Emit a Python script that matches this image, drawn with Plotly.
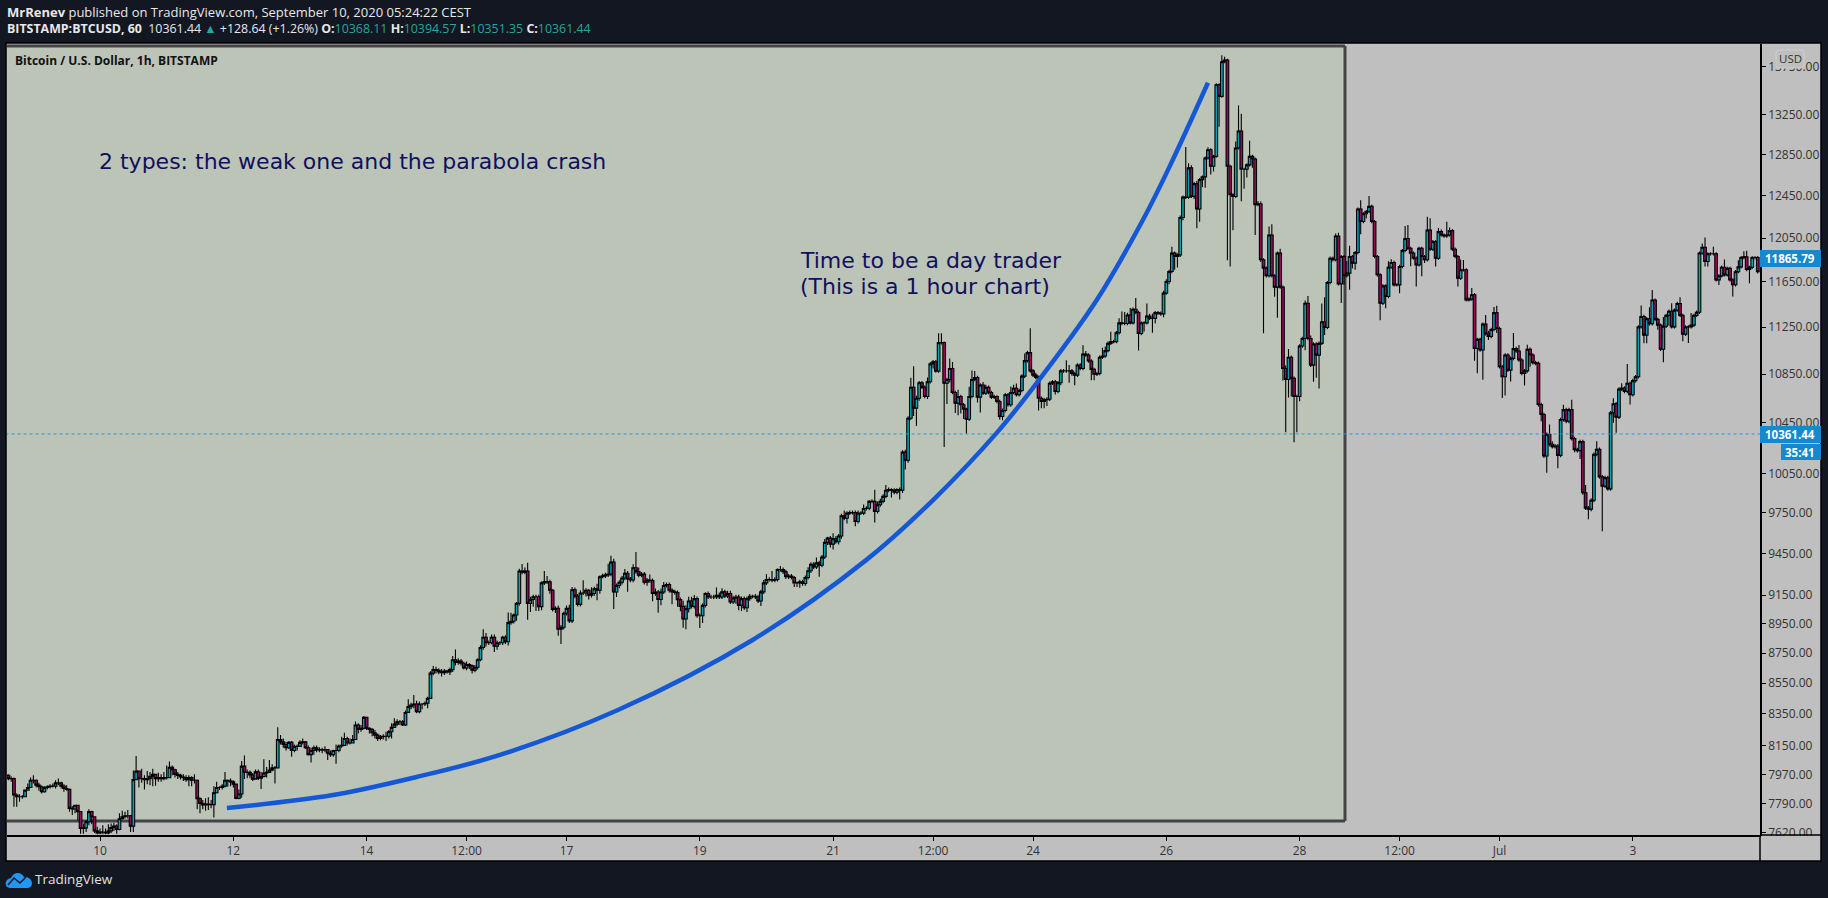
import math
import pandas as pd
import plotly.graph_objects as go

W, H = 1828, 898

# hourly candles, first part: close / high / low
first_open = 7955
closes_a = [
    7964,7944,7944,7844,7834,7834,7834,7874,7890,7934,
    7934,7904,7894,7864,7890,7894,7898,7898,7918,7918,
    7898,7884,7878,7764,7760,7782,7744,7644,7648,7684,
    7744,7714,7630,7618,7624,7622,7618,7630,7650,7658,
    7638,7702,7714,7720,7720,7658,7938,7990,7944,7944,
    7938,7944,7958,7970,7944,7950,7944,7950,7950,8014,
    7998,7970,7964,7954,7950,7938,7950,7934,7934,7822,
    7794,7784,7790,7786,7786,7858,7890,7890,7898,7934,
    7930,7924,7910,7824,7850,8021,7982,7982,7967,7941,
    7985,7946,7957,7978,7982,7997,8010,8010,8187,8172,
    8156,8135,8169,8118,8144,8144,8169,8172,8135,8092,
    8118,8135,8122,8124,8122,8124,8101,8092,8118,8118,
    8146,8150,8193,8165,8165,8187,8279,8251,8258,8328,
    8258,8251,8230,8215,8193,8204,8208,8208,8236,8264,
    8285,8300,8300,8279,8359,8397,8408,8414,8365,8414,
    8414,8419,8451,8617,
]
highs_a = [
    7978,7970,7958,7950,7854,7848,7844,7878,7914,7950,
    7964,7938,7918,7902,7898,7904,7910,7914,7934,7944,
    7924,7910,7904,7884,7778,7786,7782,7748,7674,7694,
    7758,7750,7714,7654,7644,7664,7644,7670,7674,7678,
    7670,7734,7750,7744,7754,7724,7994,8084,7990,8004,
    7964,7990,7984,8004,7964,7980,7970,7984,8024,8050,
    8024,8004,7984,7974,7970,7964,7964,7958,7970,7938,
    7830,7814,7824,7830,7814,7898,7924,7898,7910,7984,
    7938,7944,7934,7910,7878,8053,8086,8000,7993,7978,
    8000,8000,7985,8064,8015,8058,8032,8021,8264,8215,
    8193,8172,8178,8178,8156,8156,8182,8193,8178,8150,
    8135,8150,8150,8139,8135,8144,8128,8118,8122,8156,
    8156,8204,8230,8204,8193,8215,8301,8290,8279,8337,
    8322,8264,8258,8247,8225,8215,8221,8236,8247,8290,
    8322,8316,8311,8311,8372,8445,8423,8473,8436,8430,
    8419,8430,8462,8630,
]
lows_a = [
    7938,7934,7924,7774,7774,7804,7822,7830,7870,7890,
    7914,7890,7870,7854,7858,7878,7884,7890,7884,7904,
    7884,7864,7870,7744,7724,7734,7694,7614,7614,7624,
    7664,7670,7618,7610,7610,7610,7610,7610,7618,7630,
    7614,7634,7698,7704,7704,7624,7624,7934,7890,7918,
    7878,7910,7904,7898,7900,7925,7924,7934,7938,7950,
    7964,7950,7942,7938,7930,7924,7898,7898,7914,7758,
    7734,7758,7750,7754,7764,7710,7854,7874,7878,7890,
    7894,7898,7890,7818,7818,7828,7941,7946,7946,7929,
    7946,7935,7881,7950,7950,7978,7989,7914,8010,8156,
    8135,8118,8128,8079,8107,8118,8144,8156,8128,8086,
    8043,8092,8107,8107,8101,8107,8058,8079,8079,8036,
    8107,8135,8150,8150,8156,8165,8187,8225,8236,8251,
    8247,8225,8208,8193,8178,8182,8187,8178,8193,8193,
    8264,8273,8279,8273,8273,8365,8380,8387,8354,8354,
    8380,8402,8387,8451,
]

# second part: closes, wicks in USD above and below the body
closes_b = [
    8640,8635,8625,8620,8630,8625,8640,8706,8688,8697,
    8683,8651,8674,8665,8637,8656,8706,8789,8858,8821,
    8821,8858,8798,8821,8821,8858,8828,8959,8968,9012,
    9093,9323,9314,9323,9093,9120,9139,9139,9070,9238,
    9247,9245,9185,9051,9058,8913,8927,9024,9058,8971,
    9189,9143,9086,9166,9166,9185,9150,9162,9196,9185,
    9281,9288,9295,9300,9387,9173,9219,9242,9272,9307,
    9265,9258,9346,9318,9293,9300,9242,9258,9254,9162,
    9173,9120,9173,9219,9226,9185,9174,9169,9119,9072,
    8984,9055,9110,9072,9126,9007,9007,9079,9162,9138,
    9138,9138,9150,9138,9174,9145,9162,9103,9131,9138,
    9079,9126,9062,9126,9143,9143,9138,9110,9174,9238,
    9262,9262,9257,9262,9333,9333,9317,9281,9286,9276,
    9238,9238,9245,9233,9276,9324,9371,9352,9381,9364,
    9424,9531,9562,9518,9558,9535,9578,9728,9710,9748,
    9752,9752,9685,9748,9748,9783,9785,9837,9837,9760,
    9811,9837,9875,9921,9927,9921,9906,9927,9921,10217,
    10154,10488,10741,10570,10651,10779,10741,10665,10787,10937,
    10955,10876,11117,11117,10774,10806,10898,10698,10611,10665,
    10597,10562,10480,10665,10806,10822,10660,10760,10692,10741,
    10698,10660,10665,10624,10502,10551,10679,10597,10698,10733,
    10679,10714,10834,10964,11032,10878,10842,10823,10651,10624,
    10638,10643,10774,10787,10706,10779,10878,10878,10878,10878,
    10856,10842,10927,10898,11020,11012,10961,10890,10850,10856,
    10992,11003,11049,11111,11126,11126,11202,11288,11282,11282,
    11357,11288,11407,11378,11196,11288,11288,11348,11327,11327,
    11377,11372,11366,11550,11653,11744,11911,11880,11895,12243,
    12437,12434,12720,12444,12567,12323,12606,12632,12818,12900,
    12736,12834,13562,13441,13805,13823,12736,12460,12443,12917,
    13087,12707,12707,12750,12834,12807,12365,12374,11850,11774,
    11705,12079,11705,11603,11911,11603,10898,10806,10992,10815,
    10665,10665,11088,11153,11460,11153,10926,11105,11011,11111,
    11297,11247,11644,11865,11850,12069,11632,11880,11705,11729,
    11880,11820,11917,12323,12205,12278,12300,12348,12205,11880,
    11714,11460,11614,11520,11783,11826,11623,11623,11789,11935,
    12047,11956,11911,11865,11804,11956,11880,11850,12125,11947,
    12017,11865,12110,12079,12069,12079,12120,11947,11880,11683,
    11759,11759,11490,11496,11535,11068,11145,11054,11277,11194,
    11170,11230,11377,11239,10912,10828,11012,10884,10983,11066,
    11046,10969,10856,10878,11060,11012,10947,10941,10599,10518,
    10187,10358,10279,10260,10266,10192,10477,10558,10463,10558,
    10324,10237,10229,10300,9902,9786,9778,9845,10200,10239,
    10024,9953,10017,9932,10531,10605,10497,10726,10734,10707,
    10775,10680,10796,10828,11253,11344,11182,11324,11281,11488,
    11318,11268,11060,11259,11353,11390,11253,11399,11458,11353,
    11190,11253,11253,11268,11353,11381,11912,11965,11835,11905,
    11905,11905,11668,11704,11783,11713,11772,11668,11624,11742,
    11786,11871,11878,11762,11781,11871,11871,11741,
]
wick_up_b = [
    25,20,15,20,15,10,15,25,70,20,
    15,10,20,10,10,15,10,15,55,30,
    15,20,20,15,10,10,15,70,60,10,
    10,15,50,25,60,20,15,15,15,10,
    75,40,15,10,15,20,15,10,20,25,
    20,15,15,20,90,15,10,45,15,35,
    10,15,15,75,45,25,15,15,15,30,
    15,15,25,115,30,15,15,15,40,15,
    25,15,25,25,15,15,15,15,15,15,
    40,25,30,30,25,15,15,15,10,15,
    15,15,55,20,25,15,20,20,15,15,
    15,15,15,15,15,10,15,15,15,20,
    40,15,60,15,10,25,15,15,15,15,
    10,10,15,15,15,25,15,15,40,15,
    15,25,10,15,40,20,15,15,40,15,
    15,15,15,20,15,30,15,10,15,88,
    25,20,15,40,15,10,15,10,15,15,
    20,15,80,175,20,15,15,15,35,15,
    15,15,80,80,10,15,85,55,15,55,
    15,15,10,80,75,55,15,15,25,20,
    15,15,15,10,15,15,15,15,50,30,
    40,15,15,60,15,210,15,20,15,15,
    15,15,15,15,15,15,15,15,90,50,
    15,15,15,15,75,25,15,15,15,15,
    15,70,35,15,85,15,15,40,100,100,
    20,60,15,100,15,15,15,110,20,40,
    15,15,15,20,20,15,60,15,15,20,
    15,490,45,25,15,25,15,15,15,25,
    15,15,15,15,70,35,15,15,15,65,
    260,175,15,15,155,15,15,25,20,15,
    15,80,100,15,15,40,15,25,70,15,
    15,15,15,15,25,65,25,15,15,15,
    160,215,15,15,15,25,30,15,15,110,
    100,15,15,15,83,15,15,100,15,15,
    15,15,15,15,55,30,15,15,15,15,
    115,125,15,15,15,15,15,15,125,110,
    15,15,35,20,15,125,30,15,15,15,
    95,90,15,15,60,15,15,15,15,80,
    25,15,50,60,15,15,15,15,15,135,
    15,50,15,15,40,15,15,15,15,15,
    15,15,80,25,15,15,15,40,15,15,
    80,15,15,15,15,60,15,15,15,65,
    15,15,15,15,15,45,15,15,40,15,
    160,15,15,15,15,95,15,15,100,90,
    15,15,15,80,15,15,70,15,15,55,
    15,15,15,105,15,15,15,35,90,15,
    15,65,15,15,15,70,15,15,15,15,
    60,15,50,55,15,15,15,15,
]
wick_down_b = [
    15,20,15,25,15,10,20,15,20,15,
    15,10,15,20,23,15,15,10,15,25,
    15,10,40,25,15,15,15,25,15,15,
    40,15,15,15,115,60,50,100,30,25,
    15,15,25,15,25,45,100,15,15,15,
    15,15,15,15,15,25,30,15,15,70,
    25,10,15,15,15,120,35,20,15,15,
    90,15,15,15,15,15,15,25,15,55,
    15,92,40,15,15,15,88,15,50,35,
    60,70,25,15,15,15,85,50,15,15,
    15,15,15,15,15,15,15,15,15,40,
    35,40,15,30,15,15,15,15,35,15,
    15,15,15,15,15,15,15,15,15,15,
    30,30,35,15,15,15,15,15,15,83,
    15,15,20,25,40,15,20,20,15,40,
    15,15,35,15,15,15,15,15,15,82,
    15,15,15,15,15,55,15,15,70,20,
    73,20,15,65,145,20,15,15,20,15,
    40,15,15,15,517,170,25,15,80,100,
    70,80,115,15,15,15,45,125,15,15,
    15,15,15,15,25,30,15,15,15,15,
    15,15,15,15,15,15,15,15,100,55,
    55,50,15,15,25,15,22,15,15,100,
    20,85,15,15,15,15,15,90,50,15,
    15,15,15,15,15,15,15,15,15,15,
    15,15,15,15,145,15,75,15,15,125,
    45,15,15,30,15,25,15,120,100,20,
    25,15,15,15,25,180,120,75,105,15,
    80,50,15,310,15,15,890,670,320,15,
    15,310,190,80,15,85,287,15,20,577,
    15,15,15,85,270,15,100,430,150,150,
    370,290,40,15,100,15,15,140,190,280,
    15,65,15,15,15,15,15,170,80,15,
    150,50,60,15,120,15,45,15,15,15,
    15,150,15,105,15,15,15,15,75,15,
    15,15,120,15,195,15,180,30,15,15,
    15,75,15,15,15,15,15,15,15,75,
    15,15,15,15,15,105,210,15,250,15,
    30,15,15,40,15,175,155,15,95,15,
    15,15,15,100,15,100,15,15,15,55,
    15,130,15,15,15,100,15,15,15,15,
    15,20,15,65,15,15,75,15,15,15,
    15,340,15,15,15,80,125,15,15,15,
    15,80,15,15,15,15,70,70,15,15,
    15,40,15,110,15,90,15,15,15,15,
    60,15,140,15,15,15,15,15,45,45,
    15,15,15,45,15,15,15,15,105,15,
    15,15,15,15,125,15,15,15,
]

# hand drawn parabola
curve_times = ["2020-06-11 21:42","2020-06-13 11:54","2020-06-14 18:00","2020-06-16 00:00",
               "2020-06-17 18:30","2020-06-19 19:00","2020-06-21 12:00","2020-06-22 12:00",
               "2020-06-23 11:00","2020-06-24 00:00","2020-06-24 23:00","2020-06-25 15:36",
               "2020-06-26 01:00","2020-06-26 15:00"]
curve_prices = [7766,7844,7954,8090,8375,8840,9403,9847,10372,10736,11490,12222,12723,13583]

# axis labels
price_ticks = [7620,7790,7970,8150,8350,8550,8750,8950,9150,9450,9750,10050,
               10450,10850,11250,11650,12050,12450,12850,13250,13750]
date_ticks = ["2020-06-10","2020-06-12","2020-06-14","2020-06-15 12:00","2020-06-17","2020-06-19",
              "2020-06-21","2020-06-22 12:00","2020-06-24","2020-06-26","2020-06-28",
              "2020-06-29 12:00","2020-07-01","2020-07-03"]
date_labels = ["10","12","14","12:00","17","19","21","12:00","24","26","28","12:00","Jul","3"]

last_price = 10361.44
prev_price = 11865.79

BG = "#131722"
PANE = "#bfbfbf"
BOX = "#bcc4b8"
TEAL = "#26a69a"
LABEL = "#1589cd"


def fx(px):
    return px / W


def fy(py):
    return 1 - py / H


def rect(x0, y0, x1, y1, fill=None, line=None, width=1, layer="above"):
    return dict(type="rect", xref="paper", yref="paper", x0=fx(x0), x1=fx(x1), y0=fy(y1), y1=fy(y0),
                fillcolor=fill if fill else "rgba(0,0,0,0)",
                line=dict(color=line if line else "rgba(0,0,0,0)", width=width), layer=layer)


def seg(x0, y0, x1, y1, color="#000000", width=1.5, layer="above"):
    return dict(type="line", xref="paper", yref="paper", x0=fx(x0), x1=fx(x1), y0=fy(y0), y1=fy(y1),
                line=dict(color=color, width=width), layer=layer)


def path(d, fill=None, line=None, width=1):
    # d is a list of (command, px, py, px, py, ...)
    parts = []
    for item in d:
        cmd = item[0]
        nums = item[1:]
        out = [f"{fx(nums[i]):.5f},{fy(nums[i + 1]):.5f}" for i in range(0, len(nums), 2)]
        parts.append(cmd + " ".join(out))
    return dict(type="path", xref="paper", yref="paper", path=" ".join(parts) + (" Z" if fill else ""),
                fillcolor=fill if fill else "rgba(0,0,0,0)",
                line=dict(color=line if line else "rgba(0,0,0,0)", width=width), layer="above")


def text(x, y, s, size=12, color="#000000", family="Open Sans", anchor="left"):
    return dict(xref="paper", yref="paper", x=fx(x), y=fy(y), text=s, showarrow=False, xanchor=anchor,
                yanchor="middle", align=anchor, font=dict(size=size, color=color, family=family))


closes = closes_a + closes_b
opens = [first_open] + closes[:-1]
highs = list(highs_a)
lows = list(lows_a)
for k in range(len(closes_b)):
    o = opens[len(closes_a) + k]
    c = closes_b[k]
    highs.append(max(o, c) + wick_up_b[k])
    lows.append(min(o, c) - wick_down_b[k])
times = pd.date_range("2020-06-08 14:00", periods=len(closes), freq="h")

fig = go.Figure()

fig.add_trace(go.Candlestick(
    x=times, open=opens, high=highs, low=lows, close=closes,
    increasing=dict(line=dict(color="#000000", width=1.1), fillcolor="#08a3b5"),
    decreasing=dict(line=dict(color="#000000", width=1.1), fillcolor="#960c5a"),
    whiskerwidth=0, hoverinfo="skip",
))

fig.add_trace(go.Scatter(
    x=[times[0], "2020-07-04 21:48"], y=[last_price, last_price], mode="lines",
    line=dict(color="#1f9bd8", width=1, dash="dot"), hoverinfo="skip",
))

fig.add_trace(go.Scatter(
    x=curve_times, y=curve_prices, mode="lines",
    line=dict(color="#1558d6", width=4.5, shape="spline", smoothing=1), hoverinfo="skip",
))

shapes = [
    rect(6, 43, 1821, 861, fill=PANE, layer="below"),
    rect(7, 46, 1345, 821, fill=BOX, layer="below"),
    seg(7, 46, 1345, 46, color="#444444", width=3, layer="below"),
    seg(1345, 46, 1345, 821, color="#444444", width=3, layer="below"),
    seg(7, 821, 1345, 821, color="#444444", width=3, layer="below"),
    rect(6, 43, 1821, 861, line="#000000", width=1.5),
    seg(1760, 835, 1760, 861),
    seg(1760, 835, 1821, 835),
    rect(1761, 836, 1820, 860, fill=PANE),
    rect(1760, 250, 1821, 267, fill=LABEL),
    rect(1760, 426, 1821, 443, fill=LABEL),
    rect(1781, 444, 1821, 460, fill=LABEL),
    path([("M", 1779, 50), ("L", 1801, 50), ("Q", 1804, 50, 1804, 53), ("L", 1804, 65),
          ("Q", 1804, 68, 1801, 68), ("L", 1779, 68), ("Q", 1776, 68, 1776, 65), ("L", 1776, 53),
          ("Q", 1776, 50, 1779, 50)], fill=PANE, line="#cfcfcf", width=1),
    path([("M", 10, 888), ("C", 4, 888, 4, 879, 11, 878), ("C", 13, 872, 21, 871, 24, 877),
          ("C", 33, 876, 35, 888, 27, 888)], fill="#2196f3"),
    path([("M", 8, 885), ("L", 14, 878), ("L", 20, 883), ("L", 26, 877)], line=BG, width=1.5),
]

header_1 = "<b>MrRenev</b> published on TradingView.com, September 10, 2020 05:24:22 CEST"
header_2 = (f"<b>BITSTAMP:BTCUSD, 60</b>  10361.44 <span style='color:{TEAL}'>▲</span> +128.64 (+1.26%) "
            f"<b>O:</b><span style='color:{TEAL}'>10368.11</span> <b>H:</b><span style='color:{TEAL}'>10394.57</span> "
            f"<b>L:</b><span style='color:{TEAL}'>10351.35</span> <b>C:</b><span style='color:{TEAL}'>10361.44</span>")

annotations = [
    text(5, 12, header_1, size=13, color="#e8e8e8"),
    text(5, 29, header_2, size=12.4, color="#e8e8e8"),
    text(13, 60, "<b>Bitcoin / U.S. Dollar, 1h, BITSTAMP</b>", size=12, color="#111111"),
    text(97, 161, "2 types: the weak one and the parabola crash", size=22, color="#10105e", family="DejaVu Sans"),
    text(798, 261, "Time to be a day trader", size=22, color="#10105e", family="DejaVu Sans"),
    text(798, 286, "(This is a 1 hour chart)", size=22, color="#10105e", family="DejaVu Sans"),
    text(1790, 59, "USD", size=11.5, color="#333333", anchor="center"),
    text(1790, 258.5, f"<b>{prev_price:.2f}</b>", size=11.5, color="#ffffff", anchor="center"),
    text(1790, 434.5, f"<b>{last_price:.2f}</b>", size=11.5, color="#ffffff", anchor="center"),
    text(1800, 452, "<b>35:41</b>", size=11.5, color="#ffffff", anchor="center"),
    text(33, 879, "TradingView", size=13.5, color="#e0e0e0"),
]

fig.update_layout(
    width=W, height=H,
    margin=dict(l=0, r=0, t=0, b=0, autoexpand=False),
    paper_bgcolor=BG, plot_bgcolor="rgba(0,0,0,0)",
    showlegend=False, hovermode=False,
    boxgap=0.02, boxgroupgap=0.02,
    shapes=shapes, annotations=annotations,
    xaxis=dict(
        domain=[fx(7), fx(1760)], type="date", rangeslider=dict(visible=False),
        range=["2020-06-08 14:30", "2020-07-04 21:48"],
        tickmode="array", tickvals=date_ticks, ticktext=date_labels,
        ticks="outside", ticklen=4, tickcolor="#000000", tickwidth=1,
        tickfont=dict(size=12, color="#333333", family="Open Sans"),
        showgrid=False, zeroline=False, showline=True, linecolor="#000000", linewidth=1.5,
    ),
    yaxis=dict(
        domain=[fy(835), fy(44)], type="log", side="right",
        range=[math.log10(7606), math.log10(13995)],
        tickmode="array", tickvals=price_ticks, ticktext=[f"{p:.2f}" for p in price_ticks],
        ticks="outside", ticklen=4, tickcolor="#000000", tickwidth=1,
        tickfont=dict(size=12, color="#333333", family="Open Sans"),
        showgrid=False, zeroline=False, showline=True, linecolor="#000000", linewidth=1.5,
    ),
)

fig.write_html("out.html", config={"displayModeBar": False},
               post_script="document.body.style.margin='0';document.body.style.background='#131722';")
